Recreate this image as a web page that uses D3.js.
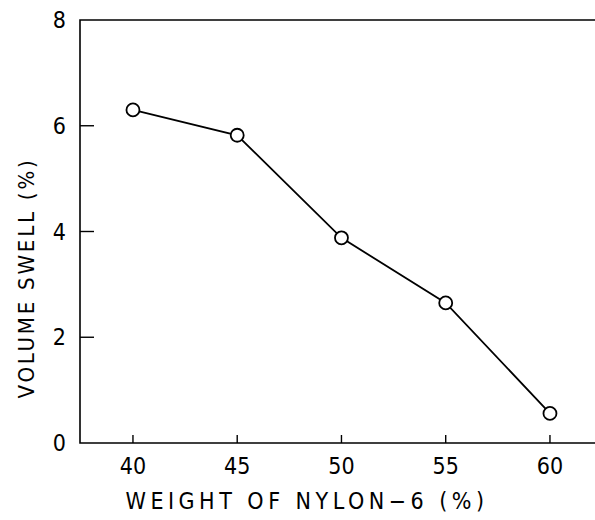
<!doctype html>
<html>
<head>
<meta charset="utf-8">
<script src="https://cdn.jsdelivr.net/npm/d3@7"></script>
<style>
  body { margin: 0; background: #fff; }
  text { font-family: "DejaVu Sans Condensed", "DejaVu Sans", sans-serif; fill: #000; }
</style>
</head>
<body>
<script>
// data
var nylon = [40, 45, 50, 55, 60];
var swell = [6.3, 5.82, 3.88, 2.65, 0.56];
var xTicks = [40, 45, 50, 55, 60];
var yTicks = [0, 2, 4, 6, 8];

var W = 595, H = 520;
var pLeft = 80, pRight = 595, pTop = 20, pBottom = 443;

var svg = d3.select("body").append("svg").attr("width", W).attr("height", H);

var x = d3.scaleLinear().domain([37.46, 62.16]).range([pLeft, pRight]);
var y = d3.scaleLinear().domain([0, 8]).range([pBottom, pTop]);

// frame: left, top, bottom (right side cut off)
svg.append("path")
    .attr("d", "M" + pRight + "," + pTop + "H" + pLeft + "V" + pBottom + "H" + pRight)
    .attr("fill", "none").attr("stroke", "#000").attr("stroke-width", 1.6);

// ticks pointing inward
svg.append("g").selectAll("line").data(yTicks.slice(1, 4)).enter().append("line")
    .attr("x1", pLeft).attr("x2", pLeft + 14)
    .attr("y1", function(d){return y(d);}).attr("y2", function(d){return y(d);})
    .attr("stroke", "#000").attr("stroke-width", 1.4);
svg.append("g").selectAll("line").data(xTicks).enter().append("line")
    .attr("x1", function(d){return x(d);}).attr("x2", function(d){return x(d);})
    .attr("y1", pBottom).attr("y2", pBottom - 8)
    .attr("stroke", "#000").attr("stroke-width", 1.4);

// tick labels
svg.append("g").selectAll("text").data(yTicks).enter().append("text")
    .attr("x", pLeft - 14).attr("y", function(d){return y(d) + 8;})
    .attr("text-anchor", "end").attr("font-size", 23)
    .text(function(d){return d;});
svg.append("g").selectAll("text").data(xTicks).enter().append("text")
    .attr("x", function(d){return x(d);}).attr("y", pBottom + 31)
    .attr("text-anchor", "middle").attr("font-size", 23)
    .text(function(d){return d;});

// axis titles
svg.append("text")
    .attr("x", 307).attr("y", 509)
    .attr("text-anchor", "middle").attr("font-size", 23).attr("letter-spacing", 4.5)
    .text("WEIGHT OF NYLON\u22126 (%)");
svg.append("text")
    .attr("transform", "translate(34,278) rotate(-90)")
    .attr("text-anchor", "middle").attr("font-size", 22).attr("letter-spacing", 2.8)
    .text("VOLUME SWELL (%)");

// line and markers
var pts = nylon.map(function(d, i){return [d, swell[i]];});
svg.append("path")
    .attr("d", d3.line().x(function(d){return x(d[0]);}).y(function(d){return y(d[1]);})(pts))
    .attr("fill", "none").attr("stroke", "#000").attr("stroke-width", 1.8);
svg.append("g").selectAll("circle").data(pts).enter().append("circle")
    .attr("cx", function(d){return x(d[0]);})
    .attr("cy", function(d){return y(d[1]);})
    .attr("r", 6.5)
    .attr("fill", "#fff").attr("stroke", "#000").attr("stroke-width", 1.8);
</script>
</body>
</html>
